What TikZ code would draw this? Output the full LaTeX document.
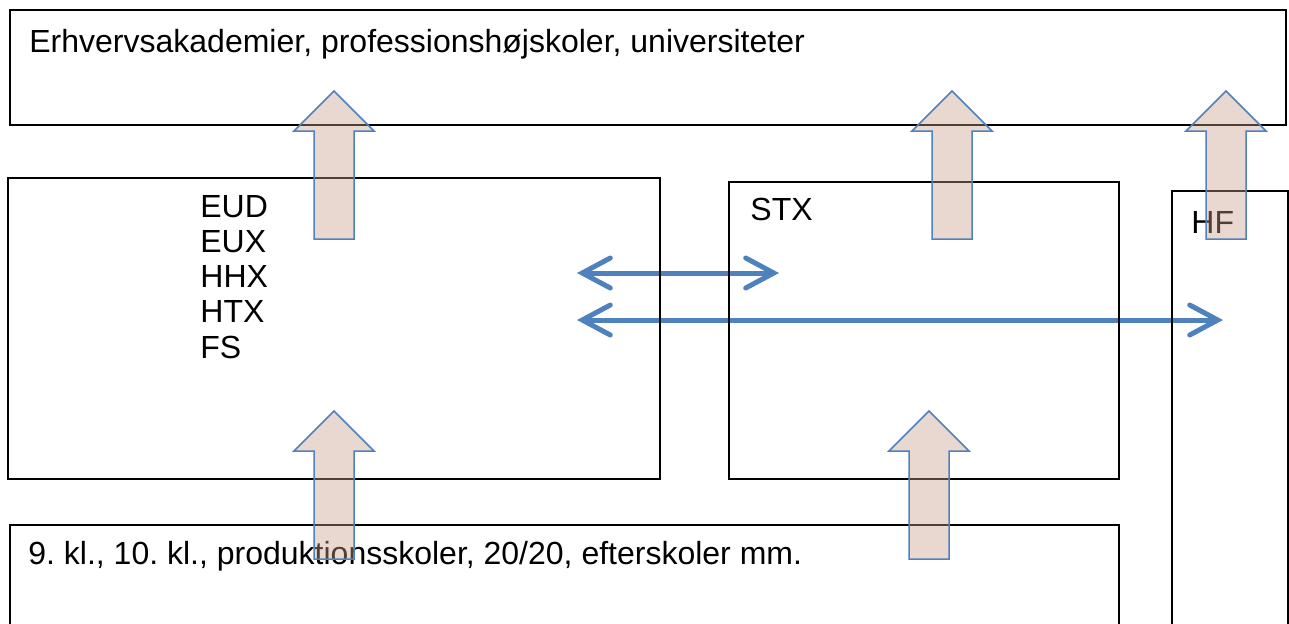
\documentclass[tikz,border=0pt]{standalone}
\usepackage{fontspec}
\setmainfont{Liberation Sans}
\usetikzlibrary{arrows.meta}
\definecolor{arrowblue}{RGB}{79,129,189}
\definecolor{arrowsand}{RGB}{198,158,134}
\frenchspacing
\begin{document}
\begin{tikzpicture}
[x=0.5pt,y=-0.5pt,
  boxdecorate/.style={draw=black,line width=0.75pt},
  textdecorate/.style={anchor=base west,inner sep=0pt,font=\fontsize{16}{19}\selectfont},
  linedecorate/.style={draw=arrowblue,line width=2.5pt,line cap=round,
    >={Straight Barb[length=14pt,width=15pt,line cap=round]},<->},
  blockdecorate/.style={draw=arrowblue,line width=0.75pt,fill=arrowsand,fill opacity=0.4}]
\useasboundingbox (0,0) rectangle (1289,623);
%% double arrows between the schools
\coordinate (eudA) at (577,273);
\coordinate (stxA) at (779,273);
\coordinate (eudB) at (577,320);
\coordinate (hfB) at (1223,320);
\draw[linedecorate] (eudA) -- (stxA);
\draw[linedecorate] (eudB) -- (hfB);
%% boxes
\draw[boxdecorate] (10,10) rectangle (1286,125);
\draw[boxdecorate] (8,178) rectangle (660,479);
\draw[boxdecorate] (729,182) rectangle (1119,479);
\draw[boxdecorate] (1288,640) -- (1172,640) -- (1172,191) -- (1288,191) -- (1288,640);
\draw[boxdecorate] (1119,640) -- (1119,525) -- (10,525) -- (10,640);
%% texts
\node (top) at (29,52) [textdecorate] {Erhvervsakademier, professionshøjskoler, universiteter};
\foreach \nodename/\i in {EUD/0, EUX/1, HHX/2, HTX/3, FS/4} {
  \node (\nodename) at (200,217+35.3*\i) [textdecorate] {\nodename};
}
\node (stx) at (750,220) [textdecorate] {STX};
\node (hf) at (1191,233) [textdecorate] {HF};
\node (bottom) at (28,564) [textdecorate] {9. kl., 10. kl., produktionsskoler, 20/20, efterskoler mm.};
%% block arrows
\foreach \cx/\ty in {334/91, 952/91, 1226/91, 334/411, 929/411} {
  \path[blockdecorate] (\cx,\ty) -- (\cx+40,\ty+40) -- (\cx+20,\ty+40) -- (\cx+20,\ty+148)
    -- (\cx-20,\ty+148) -- (\cx-20,\ty+40) -- (\cx-40,\ty+40) -- cycle;
}
\end{tikzpicture}
\end{document}
